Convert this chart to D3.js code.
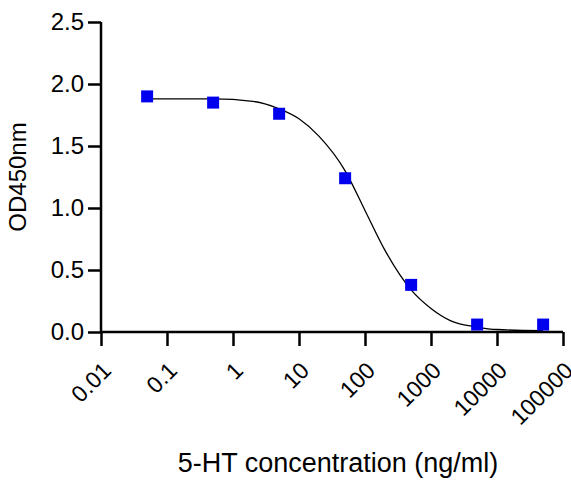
<!DOCTYPE html>
<html><head><meta charset="utf-8">
<script src="https://cdn.jsdelivr.net/npm/d3@7"></script>
<style>body{margin:0;background:#fff}</style></head>
<body><svg id="chart" width="571" height="485"></svg>
<script>
// measured points
var conc = [0.05, 0.5, 5, 50, 500, 5000, 50000];
var od = [1.90, 1.85, 1.76, 1.24, 0.38, 0.06, 0.06];
// fitted curve
var curveX = [0.05, 0.5, 2, 5, 10, 20, 50, 100, 200, 500, 1000, 2000, 5000, 10000, 50000];
var curveY = [1.88, 1.88, 1.86, 1.80, 1.72, 1.58, 1.30, 0.98, 0.66, 0.34, 0.19, 0.09, 0.04, 0.02, 0.01];
var xTicks = [0.01, 0.1, 1, 10, 100, 1000, 10000, 100000];
var yTicks = [0, 0.5, 1.0, 1.5, 2.0, 2.5];

var svg = d3.select("#chart");
var x = d3.scaleLog().domain([0.01, 100000]).range([101, 563]);
var y = d3.scaleLinear().domain([0, 2.5]).range([332, 22]);

var font = "Liberation Sans, Arial, sans-serif";

// y axis
var ya = svg.append("g").attr("transform", "translate(101,0)")
  .call(d3.axisLeft(y).tickValues(yTicks).tickSize(13).tickPadding(4).tickFormat(d3.format(".1f")));
ya.attr("font-size", null);
ya.selectAll("text").style("font-size", "24px").style("font-family", font).attr("fill", "#000");

// x axis
var xa = svg.append("g").attr("transform", "translate(0,332)")
  .call(d3.axisBottom(x).tickValues(xTicks).tickSize(14).tickFormat(function(d) { return String(d); }));
xa.attr("font-size", null);
xa.selectAll("text").style("font-size", "23px").style("font-family", font).attr("fill", "#000")
  .attr("text-anchor", "end").attr("dy", 0).attr("dx", 0)
  .attr("transform", "translate(-1,28) rotate(-45)");

svg.selectAll(".domain, .tick line").attr("stroke", "#000").attr("stroke-width", 2.5);
ya.select(".domain").attr("d", "M0,22V332");
xa.select(".domain").attr("d", "M101,0H563");

// fitted curve
var line = d3.line().x(function(d) { return x(d[0]); }).y(function(d) { return y(d[1]); }).curve(d3.curveMonotoneX);
svg.append("path").datum(d3.zip(curveX, curveY)).attr("d", line)
  .attr("fill", "none").attr("stroke", "#000").attr("stroke-width", 1.3);

// points
svg.selectAll(".pt").data(d3.zip(conc, od)).enter().append("rect")
  .attr("class", "pt")
  .attr("x", function(d) { return x(d[0]) - 6; })
  .attr("y", function(d) { return y(d[1]) - 6; })
  .attr("width", 12).attr("height", 12).attr("fill", "#0000ee");

// titles
svg.append("text").attr("transform", "translate(26,177) rotate(-90)").attr("text-anchor", "middle")
  .style("font-size", "24px").style("font-family", font).text("OD450nm");
svg.append("text").attr("x", 338).attr("y", 472).attr("text-anchor", "middle")
  .style("font-size", "27px").style("font-family", font).text("5-HT concentration (ng/ml)");
</script></body></html>
